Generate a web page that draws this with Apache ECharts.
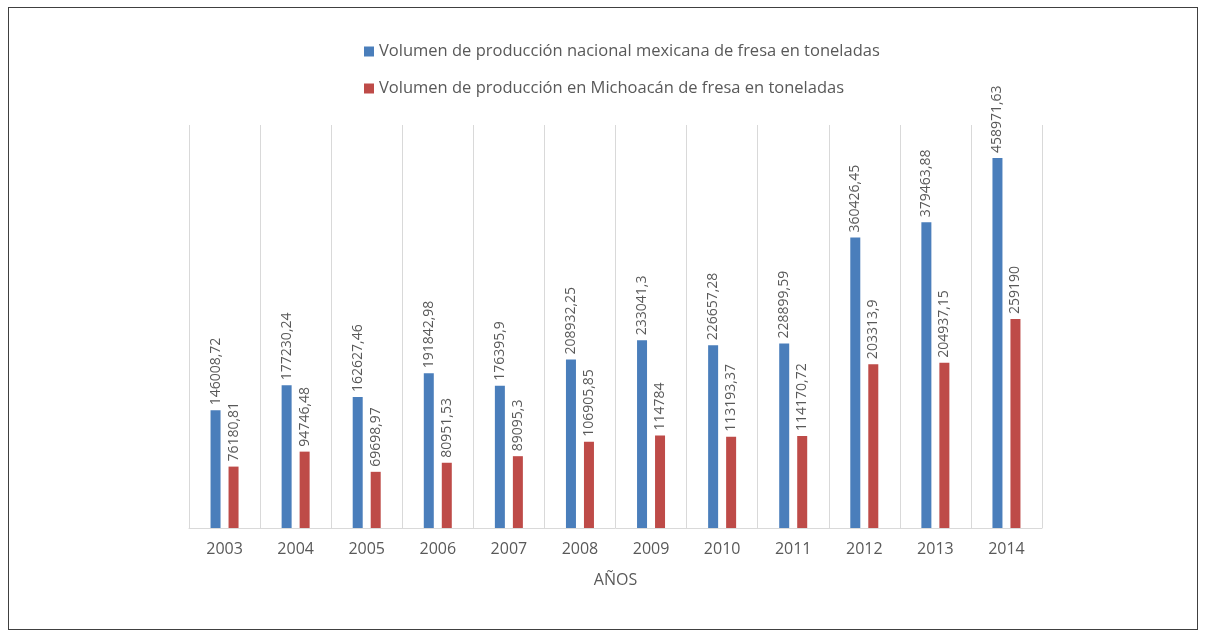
<!DOCTYPE html>
<html>
<head>
<meta charset="utf-8">
<script src="https://cdn.jsdelivr.net/npm/echarts@6/dist/echarts.min.js"></script>
<style>
  html, body { margin: 0; padding: 0; background: #fff; }
  #frame { position: absolute; left: 8px; top: 7px; width: 1188px; height: 621px; border: 1px solid #404040; }
  #main { position: absolute; left: 0; top: 0; width: 1205px; height: 631px; }
</style>
</head>
<body>
<div id="frame"></div>
<div id="main"></div>
<script>
const years = ['2003','2004','2005','2006','2007','2008','2009','2010','2011','2012','2013','2014'];
const nacional = [146008.72, 177230.24, 162627.46, 191842.98, 176395.9, 208932.25, 233041.3, 226657.28, 228899.59, 360426.45, 379463.88, 458971.63];
const michoacan = [76180.81, 94746.48, 69698.97, 80951.53, 89095.3, 106905.85, 114784, 113193.37, 114170.72, 203313.9, 204937.15, 259190];
const names = ['Volumen de producción nacional mexicana de fresa en toneladas', 'Volumen de producción en Michoacán de fresa en toneladas'];

const font = '"Open Sans", "Noto Sans", sans-serif';
const fmt = p => String(p.value).replace('.', ',');

const chart = echarts.init(document.getElementById('main'));
chart.setOption({
  color: ['#4a7ebb', '#be4b48'],
  animation: false,
  textStyle: { fontFamily: font },
  legend: {
    orient: 'vertical',
    left: 359,
    top: 38,
    itemWidth: 10,
    itemHeight: 10,
    itemGap: 20,
    icon: 'rect',
    textStyle: { fontSize: 16.5, color: '#595959', fontFamily: font },
    data: names
  },
  grid: { left: 189, right: 163, top: 125, bottom: 103 },
  xAxis: {
    type: 'category',
    data: years,
    axisLine: { lineStyle: { color: '#d9d9d9', width: 1 } },
    axisTick: { show: false },
    splitLine: { show: true, lineStyle: { color: '#d9d9d9', width: 1 } },
    axisLabel: { color: '#595959', fontSize: 16, margin: 13, fontFamily: font },
    name: 'AÑOS',
    nameLocation: 'middle',
    nameGap: 44,
    nameTextStyle: { color: '#595959', fontSize: 16, fontFamily: font }
  },
  yAxis: {
    type: 'value',
    min: 0,
    max: 500000,
    show: false,
    splitLine: { show: false }
  },
  series: [
    {
      name: names[0],
      type: 'bar',
      data: nacional,
      barWidth: 10,
      barGap: '80%',
      label: { show: true, position: 'top', rotate: 90, align: 'left', verticalAlign: 'middle', distance: 5, color: '#595959', fontSize: 14, formatter: fmt }
    },
    {
      name: names[1],
      type: 'bar',
      data: michoacan,
      barWidth: 10,
      barGap: '80%',
      label: { show: true, position: 'top', rotate: 90, align: 'left', verticalAlign: 'middle', distance: 5, color: '#595959', fontSize: 14, formatter: fmt }
    }
  ]
});
</script>
</body>
</html>
